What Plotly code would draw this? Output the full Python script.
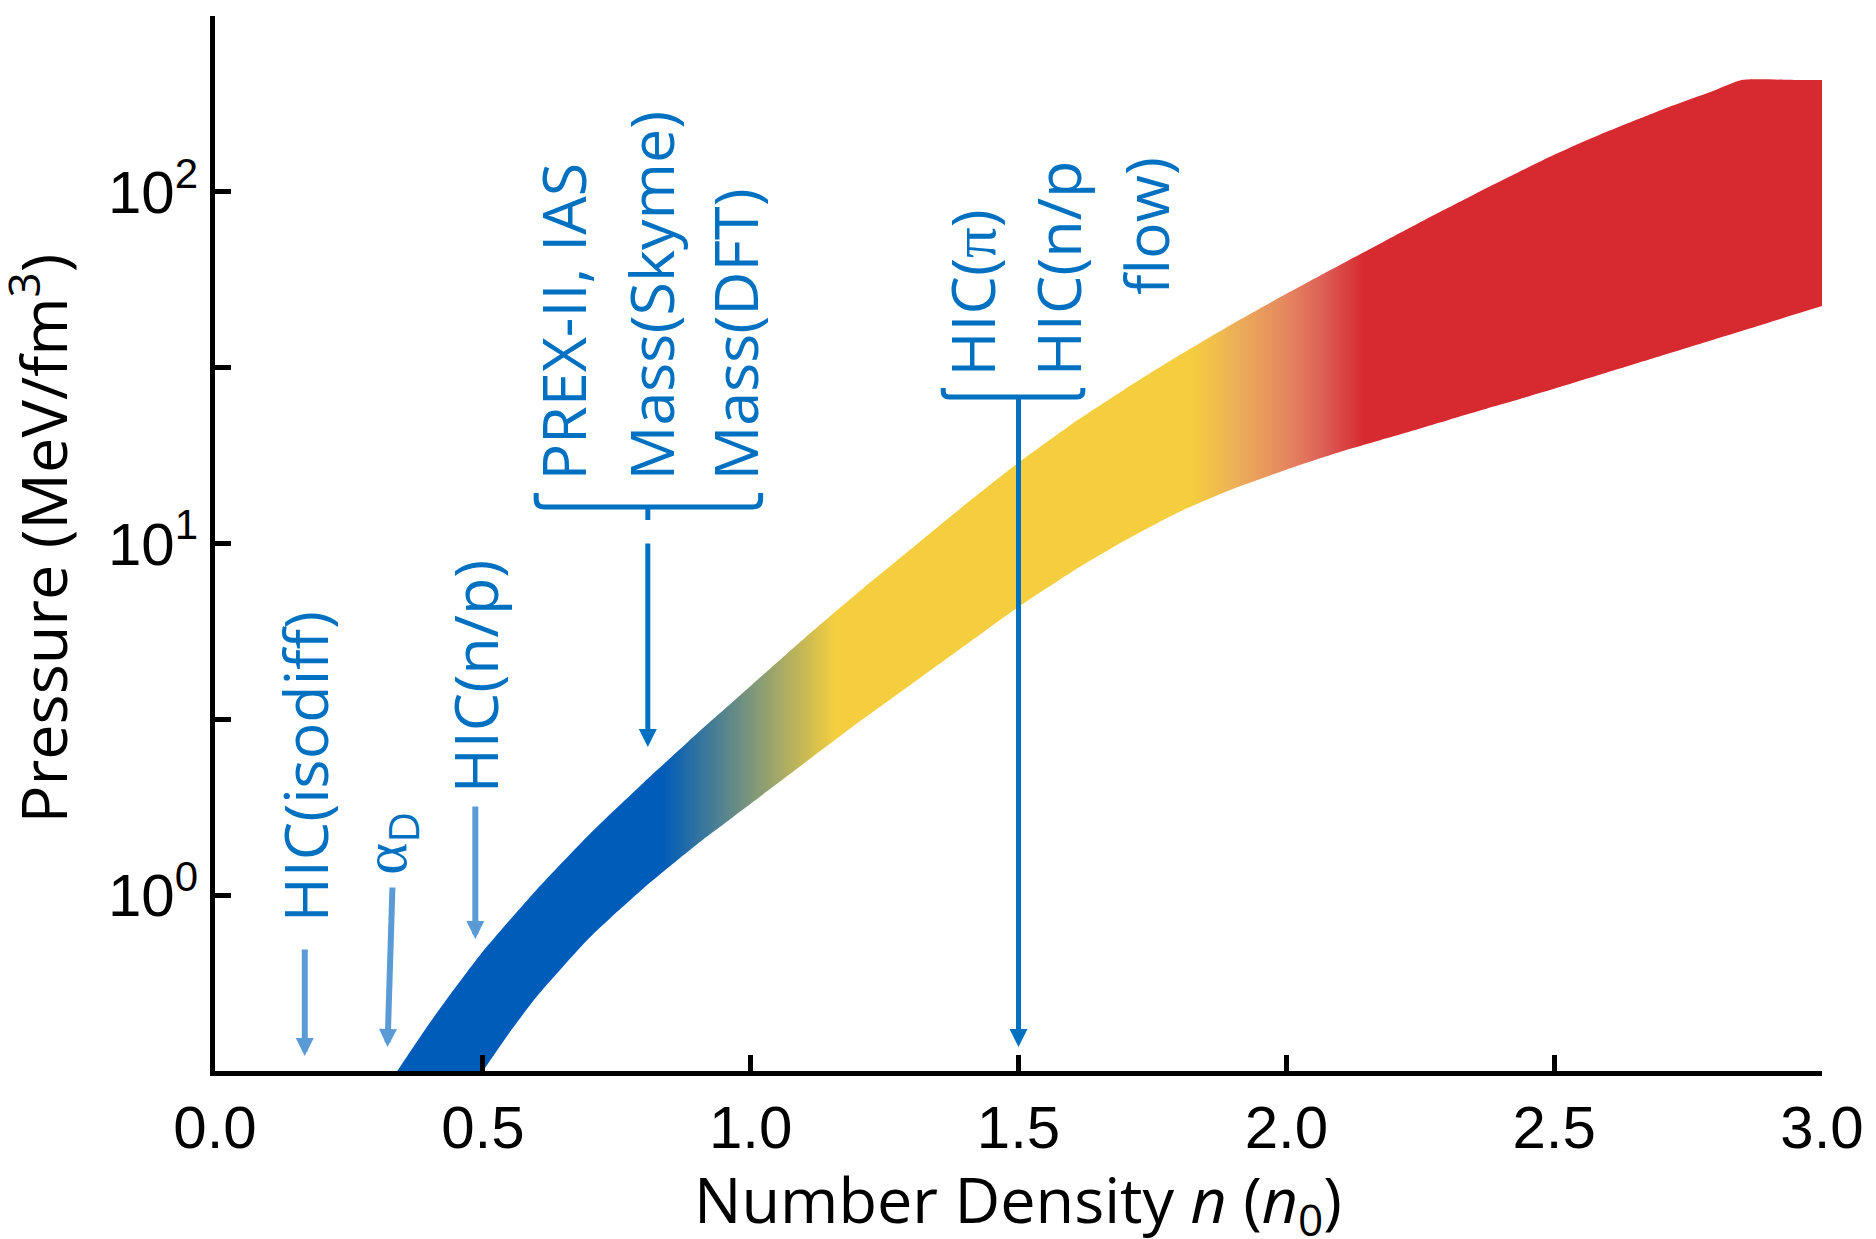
import plotly.graph_objects as go

# Upper and lower bounds of the pressure band, P(n) in MeV/fm^3, n in units of n0
n_upper = [0.34, 0.40, 0.45, 0.50, 0.60, 0.70, 0.80, 0.90, 1.00, 1.10, 1.20, 1.30, 1.40, 1.50,
           1.60, 1.70, 1.80, 1.90, 2.00, 2.10, 2.20, 2.30, 2.40, 2.50, 2.60, 2.70, 2.80, 2.85, 2.95, 3.00]
p_upper = [0.316, 0.4315, 0.5495, 0.6918, 1.035, 1.496, 2.089, 2.884, 3.936, 5.370, 7.244, 9.661, 12.88, 16.98,
           21.88, 27.54, 34.28, 42.17, 51.29, 61.94, 74.64, 89.74, 107.4, 127.4, 148.6, 171.0, 194.5, 208.0,
           208.0, 208.0]

n_lower = [0.50, 0.55, 0.60, 0.70, 0.80, 0.90, 1.00, 1.10, 1.20, 1.30, 1.40, 1.50, 1.60, 1.70,
           1.80, 1.90, 2.00, 2.10, 2.20, 2.30, 2.40, 2.50, 2.60, 2.70, 2.80, 2.90, 3.00]
p_lower = [0.316, 0.407, 0.513, 0.759, 1.047, 1.396, 1.820, 2.371, 3.090, 3.981, 5.129, 6.607, 8.318, 10.23,
           12.30, 14.29, 16.22, 18.20, 20.18, 22.39, 24.83, 27.54, 30.69, 34.20, 38.11, 42.46, 47.32]

# Colour of the band along the density axis
band_stops_n = [0.0, 0.835, 1.155, 1.816, 1.901, 1.993, 2.056, 2.142, 3.0]
band_colors = ["#005CB9", "#005CB9", "#F4CE3E", "#F4CE3E", "#ECB058", "#E5875F", "#DE645A",
               "#D62930", "#D62930"]

# Axis ticks
x_tickvals = [0.0, 0.5, 1.0, 1.5, 2.0, 2.5, 3.0]
x_ticktext = ["0.0", "0.5", "1.0", "1.5", "2.0", "2.5", "3.0"]
y_tickvals = [10 ** -0.5, 1, 10 ** 0.5, 10, 10 ** 1.5, 100, 10 ** 2.5]
y_ticktext = ["", "10<sup>0</sup>", "", "10<sup>1</sup>", "", "10<sup>2</sup>", ""]

# Constraint labels
SERIF = "<span style=\"font-family:'Liberation Serif'\">{}</span>"
labels = ["HIC(isodiff)", SERIF.format("α") + "<sub>D</sub>", "HIC(n/p)",
          "PREX-II, IAS", "Mass(Skyme)", "Mass(DFT)",
          "HIC(" + SERIF.format("π") + ")", "HIC(n/p", "flow)"]

DARK = "#0070C0"
LIGHT = "#5B9BD5"
TXT_FONT = "Open Sans"

span = band_stops_n[-1] - band_stops_n[0]
colorscale = [[(s - band_stops_n[0]) / span, c] for s, c in zip(band_stops_n, band_colors)]

fig = go.Figure()
# lower bound first, then the upper bound filled down to it
fig.add_trace(go.Scatter(
    x=n_lower, y=p_lower, mode="lines",
    line=dict(width=0, color="rgba(0,0,0,0)", shape="spline", smoothing=0.6),
    hoverinfo="skip", showlegend=False,
))
fig.add_trace(go.Scatter(
    x=n_upper, y=p_upper, mode="lines", fill="tonexty",
    line=dict(width=0, color="rgba(0,0,0,0)", shape="spline", smoothing=0.6),
    fillgradient=dict(type="horizontal", colorscale=colorscale,
                      start=band_stops_n[0], stop=band_stops_n[-1]),
    hoverinfo="skip", showlegend=False,
))

annotations = []

# rotated labels: x, log10 y, vertical anchor
label_pos = [
    (0.1676, -0.079, "bottom"),
    (0.331, 0.055, "bottom"),
    (0.486, 0.288, "bottom"),
    (0.649, 1.175, "bottom"),
    (0.813, 1.175, "bottom"),
    (0.970, 1.175, "bottom"),
    (1.413, 1.4735, "bottom"),
    (1.574, 1.4735, "bottom"),
    (1.736, 2.1018, "top"),
]
for txt, (lx, ly, ya) in zip(labels, label_pos):
    annotations.append(dict(
        text=txt, x=lx, y=ly, xref="x", yref="y", showarrow=False,
        textangle=-90, xanchor="center", yanchor=ya, borderpad=0,
        font=dict(family=TXT_FONT, size=61, color=DARK),
    ))

# arrows: tip x, tip log10 y, tail offset (px), colour, width, head size
arrows = [
    (0.1676, -0.457, 0, -108, LIGHT, 6, 0.6),
    (0.322, -0.4317, 5, -161, LIGHT, 6, 0.6),
    (0.486, -0.1245, 0, -134, LIGHT, 6, 0.6),
    (0.808, 0.4214, 0, -205, DARK, 5, 0.72),
    (1.5, -0.4317, 0, -650, DARK, 5, 0.72),
]
for ax_x, ax_y, dx, dy, col, w, hs in arrows:
    annotations.append(dict(
        text="", x=ax_x, y=ax_y, xref="x", yref="y", showarrow=True,
        ax=dx, ay=dy, arrowhead=2, arrowsize=hs, arrowwidth=w, arrowcolor=col,
        standoff=0, startstandoff=0,
    ))

# axis titles
annotations.append(dict(
    text="Pressure (MeV/fm<sup>3</sup>)", x=-0.1099, y=0.5052, xref="paper", yref="paper",
    textangle=-90, showarrow=False, xanchor="center", yanchor="middle",
    font=dict(family=TXT_FONT, size=63, color="black"),
))
annotations.append(dict(
    text="Number Density <i>n</i> (<i>n</i><sub>0</sub>)", x=0.4997, y=-0.1242,
    xref="paper", yref="paper", showarrow=False, xanchor="center", yanchor="middle",
    font=dict(family=TXT_FONT, size=63, color="black"),
))

# brackets grouping the labels
shapes = [
    dict(type="path", xref="x", yref="paper",
         path="M 0.5996,0.5479 L 0.5996,0.5422 Q 0.5996,0.5346 0.6146,0.5346 L 1.0036,0.5346 "
              "Q 1.0186,0.5346 1.0186,0.5422 L 1.0186,0.5479",
         line=dict(color=DARK, width=5)),
    dict(type="line", xref="x", yref="paper", x0=0.808, x1=0.808, y0=0.5346, y1=0.5223,
         line=dict(color=DARK, width=5)),
    dict(type="path", xref="x", yref="paper",
         path="M 1.3594,0.6474 L 1.3594,0.6446 Q 1.3594,0.6389 1.3704,0.6389 L 1.6091,0.6389 "
              "Q 1.6201,0.6389 1.6201,0.6446 L 1.6201,0.6474",
         line=dict(color=DARK, width=5)),
]

fig.update_layout(
    width=1876, height=1239, autosize=False,
    margin=dict(l=215, r=50, t=16, b=168, pad=0),
    paper_bgcolor="white", plot_bgcolor="white",
    showlegend=False,
    annotations=annotations,
    shapes=shapes,
    xaxis=dict(
        range=[0, 3], tickvals=x_tickvals, ticktext=x_ticktext,
        ticks="inside", ticklen=16, tickwidth=5, tickcolor="black",
        showline=True, linewidth=5, linecolor="black",
        showgrid=False, zeroline=False,
        tickfont=dict(family="Liberation Sans", size=60, color="black"),
    ),
    yaxis=dict(
        type="log", range=[-0.5, 2.5], tickvals=y_tickvals, ticktext=y_ticktext,
        ticks="inside", ticklen=16, tickwidth=5, tickcolor="black",
        showline=True, linewidth=5, linecolor="black",
        showgrid=False, zeroline=False,
        tickfont=dict(family="Liberation Sans", size=60, color="black"),
    ),
)

fig.write_html("out.html")
